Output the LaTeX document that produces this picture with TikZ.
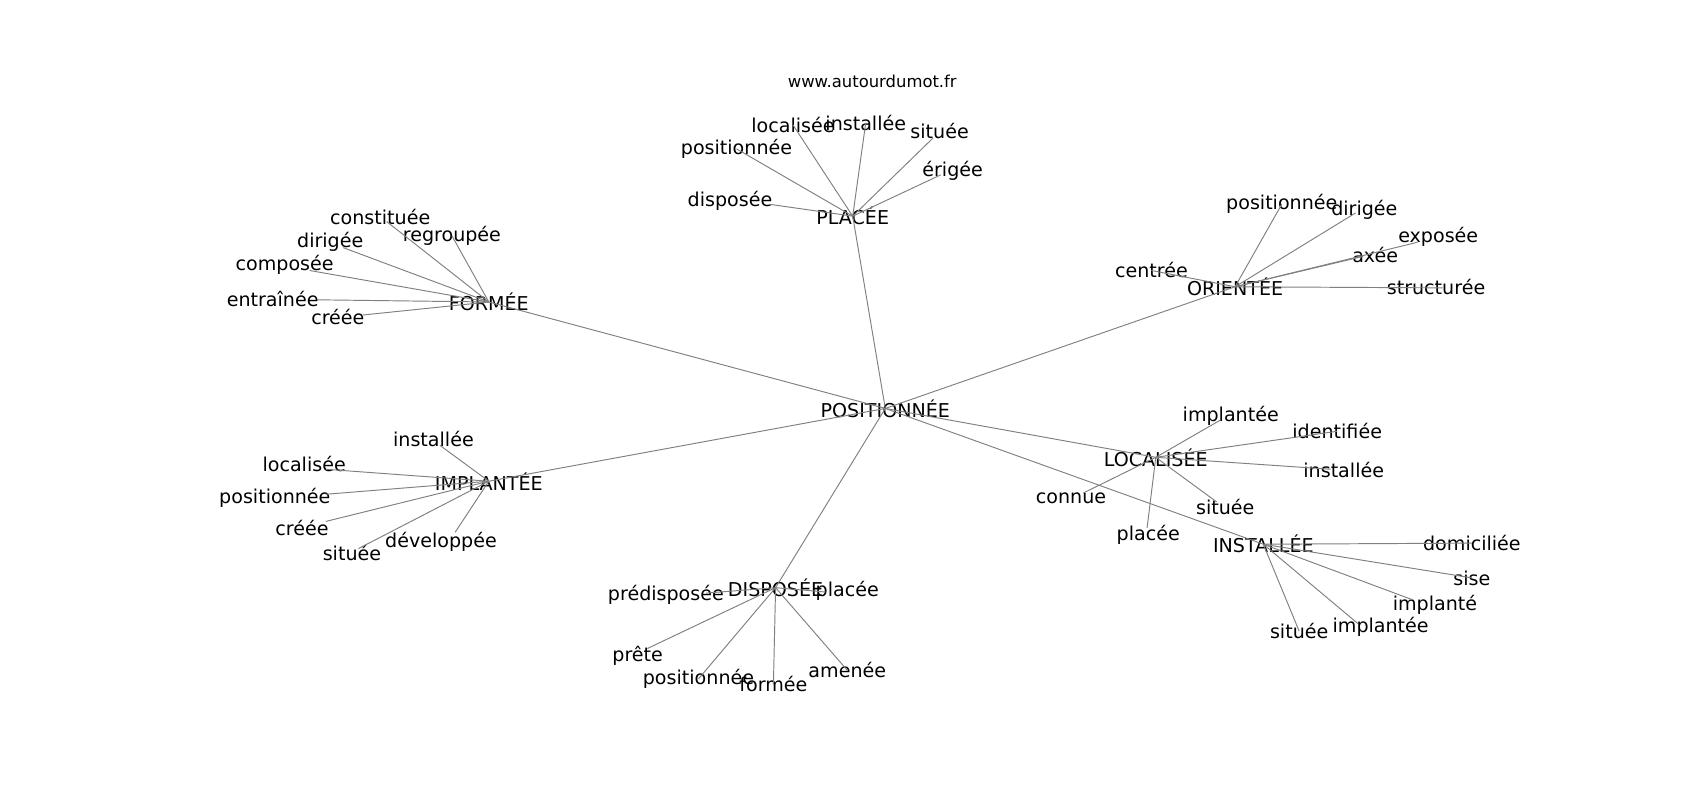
\documentclass[tikz,border=0pt]{standalone}
\usepackage{fontspec}
\setmainfont{DejaVu Sans}
\usepackage{tikz}
\usetikzlibrary{calc}

\begin{document}
\begin{tikzpicture}[scale=0.2]
    \tikzstyle{every node}+=[inner sep=0pt, font=\fontsize{10}{12}\selectfont]
    \tikzstyle{link}=[gray, line width=0.5pt]
    \useasboundingbox (0,0) rectangle (156.5,-73.65);
    \node (site) at (80.3,-7.5) {\fontsize{8.6}{10}\selectfont www.autourdumot.fr};
    % centre and hubs
    \node (po) at (81.5,-37.6) {POSITIONNÉE};
    \node (pl) at (78.5,-19.9) {PLACÉE};
    \node (fo) at (45.0,-27.8) {FORMÉE};
    \node (or) at (113.7,-26.4) {ORIENTÉE};
    \node (im) at (45.0,-44.3) {IMPLANTÉE};
    \node (lo) at (106.4,-42.1) {LOCALISÉE};
    \node (in) at (116.3,-50.1) {INSTALLÉE};
    \node (di) at (71.4,-54.1) {DISPOSÉE};
    \draw [link] (po.center) -- (pl.center);
    \draw [link] (po.center) -- (fo.center);
    \draw [link] (po.center) -- (or.center);
    \draw [link] (po.center) -- (im.center);
    \draw [link] (po.center) -- (lo.center);
    \draw [link] (po.center) -- (in.center);
    \draw [link] (po.center) -- (di.center);
    % placee
    \node (pl1) at (67.2,-18.5) {disposée};
    \node (pl2) at (67.8,-13.7) {positionnée};
    \node (pl3) at (73.0,-11.5) {localisée};
    \node (pl4) at (79.7,-11.3) {installée};
    \node (pl5) at (86.5,-12.1) {située};
    \node (pl6) at (87.7,-15.7) {érigée};
    \draw [link] (pl.center) -- ($(pl1)+(3.6,-0.3)$);
    \draw [link] (pl.center) -- (pl2.center);
    \draw [link] (pl.center) -- (pl3.center);
    \draw [link] (pl.center) -- (pl4.center);
    \draw [link] (pl.center) -- ($(pl5)+(-0.6,-0.6)$);
    \draw [link] (pl.center) -- ($(pl6)+(-1.1,-0.4)$);
    % formee
    \node (fo1) at (35.0,-20.0) {constituée};
    \node (fo2) at (41.6,-21.7) {regroupée};
    \node (fo3) at (30.4,-22.3) {dirigée};
    \node (fo4) at (26.2,-24.4) {composée};
    \node (fo5) at (25.1,-27.5) {entraînée};
    \node (fo6) at (31.1,-29.2) {créée};
    \draw [link] (fo.center) -- ($(fo1)+(0.6,-0.4)$);
    \draw [link] (fo.center) -- (fo2.center);
    \draw [link] (fo.center) -- ($(fo3)+(1.2,-0.5)$);
    \draw [link] (fo.center) -- ($(fo4)+(2.3,-0.5)$);
    \draw [link] (fo.center) -- ($(fo5)+(4.1,-0.1)$);
    \draw [link] (fo.center) -- ($(fo6)+(2.3,0.2)$);
    % orientee
    \node (or1) at (118.0,-18.8) {positionnée};
    \node (or2) at (125.6,-19.3) {dirigée};
    \node (or3) at (132.4,-21.8) {exposée};
    \node (or4) at (126.6,-23.5) {axée};
    \node (or5) at (106.0,-24.9) {centrée};
    \node (or6) at (132.2,-26.4) {structurée};
    \draw [link] (or.center) -- (or1.center);
    \draw [link] (or.center) -- ($(or2)+(-0.8,-0.3)$);
    \draw [link] (or.center) -- ($(or3)+(-1.9,-0.5)$);
    \draw [link] (or.center) -- ($(or4)+(-1.1,-0.1)$);
    \draw [link] (or.center) -- (or5.center);
    \draw [link] (or.center) -- ($(or6)+(0.6,-0.1)$);
    % implantee
    \node (im1) at (39.9,-40.4) {installée};
    \node (im2) at (28.0,-42.7) {localisée};
    \node (im3) at (25.3,-45.8) {positionnée};
    \node (im4) at (27.8,-48.6) {créée};
    \node (im5) at (32.4,-50.9) {située};
    \node (im6) at (40.6,-49.9) {développée};
    \draw [link] (im.center) -- ($(im1)+(0.6,-0.6)$);
    \draw [link] (im.center) -- ($(im2)+(2.0,-0.5)$);
    \draw [link] (im.center) -- ($(im3)+(4.7,0.3)$);
    \draw [link] (im.center) -- ($(im4)+(2.2,0.6)$);
    \draw [link] (im.center) -- ($(im5)+(0.6,0.4)$);
    \draw [link] (im.center) -- ($(im6)+(1.3,0.9)$);
    % localisee
    \node (lo1) at (113.3,-38.3) {implantée};
    \node (lo2) at (123.1,-39.7) {identifiée};
    \node (lo3) at (123.7,-43.3) {installée};
    \node (lo4) at (112.8,-46.7) {située};
    \node (lo5) at (98.6,-45.9) {connue};
    \node (lo6) at (105.7,-49.2) {placée};
    \draw [link] (lo.center) -- ($(lo1)+(-1.0,-0.4)$);
    \draw [link] (lo.center) -- (lo2.center);
    \draw [link] (lo.center) -- ($(lo3)+(-1.2,0.1)$);
    \draw [link] (lo.center) -- ($(lo4)+(-0.8,0.5)$);
    \draw [link] (lo.center) -- ($(lo5)+(1.1,0.5)$);
    \draw [link] (lo.center) -- ($(lo6)+(-0.1,0.6)$);
    % installee
    \node (in1) at (135.5,-50.0) {domiciliée};
    \node (in2) at (135.5,-53.2) {sise};
    \node (in3) at (132.1,-55.7) {implanté};
    \node (in4) at (127.1,-57.7) {implantée};
    \node (in5) at (119.6,-58.1) {située};
    \draw [link] (in.center) -- (in1.center);
    \draw [link] (in.center) -- (in2.center);
    \draw [link] (in.center) -- ($(in3)+(-2.1,0.5)$);
    \draw [link] (in.center) -- ($(in4)+(-2.1,0.3)$);
    \draw [link] (in.center) -- (in5.center);
    % disposee
    \node (di1) at (61.3,-54.8) {prédisposée};
    \node (di2) at (78.0,-54.4) {placée};
    \node (di3) at (58.7,-60.4) {prête};
    \node (di4) at (64.3,-62.5) {positionnée};
    \node (di5) at (71.2,-63.0) {formée};
    \node (di6) at (78.0,-61.7) {amenée};
    \draw [link] (di.center) -- ($(di1)+(3.7,0.2)$);
    \draw [link] (di.center) -- ($(di2)+(-2.0,-0.1)$);
    \draw [link] (di.center) -- ($(di3)+(0.9,0.7)$);
    \draw [link] (di.center) -- (di4.center);
    \draw [link] (di.center) -- (di5.center);
    \draw [link] (di.center) -- (di6.center);
\end{tikzpicture}
\end{document}
